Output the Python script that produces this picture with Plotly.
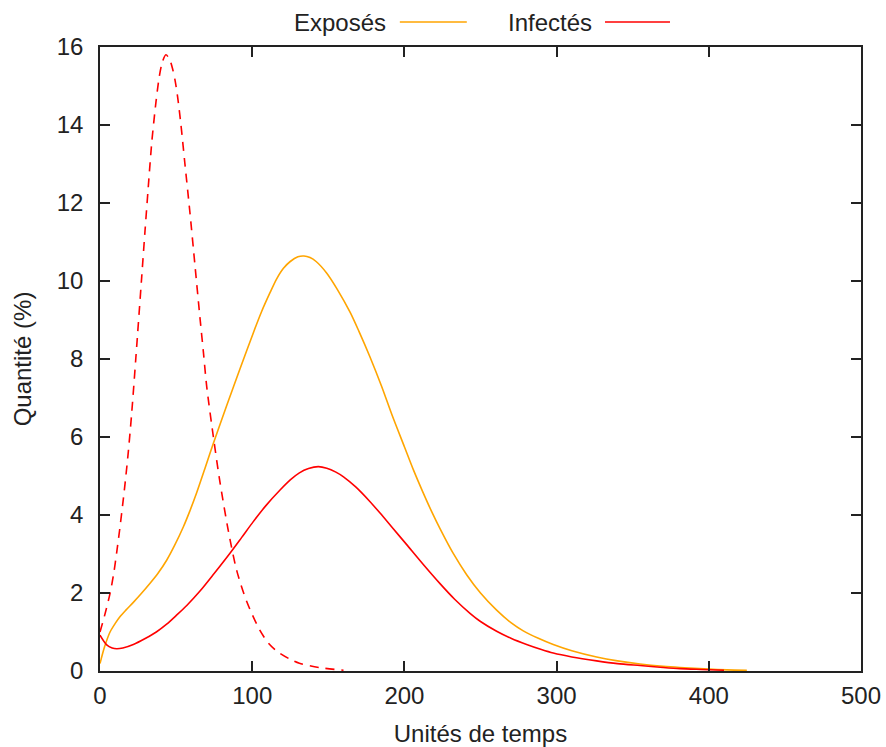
import plotly.graph_objects as go

# Exposés (solid orange)
t_exp = [0, 3, 6.6, 10, 13.1, 17, 21.9, 27, 32.9, 38, 43.8, 49, 54.8, 59, 63.5, 69, 74.5, 83.2, 92,
         101.2, 106, 111.7, 116, 120.4, 125, 130, 134, 138, 142, 149, 156, 164.3, 170, 177.4, 185,
         192, 200, 206, 212, 218, 223.4, 232, 240.9, 250, 260.6, 270, 278.1, 288, 297.8, 310, 326.3,
         340, 354.8, 370, 381, 400, 412, 425]
v_exp = [0.19, 0.62, 1.0, 1.22, 1.39, 1.56, 1.76, 1.98, 2.25, 2.5, 2.84, 3.22, 3.7, 4.1, 4.57, 5.2,
         5.84, 6.8, 7.75, 8.72, 9.2, 9.7, 10.05, 10.32, 10.5, 10.62, 10.64, 10.6, 10.5, 10.2, 9.78,
         9.2, 8.72, 8.05, 7.3, 6.55, 5.75, 5.15, 4.6, 4.08, 3.65, 3.02, 2.47, 2.0, 1.56, 1.24, 1.03,
         0.84, 0.68, 0.52, 0.36, 0.26, 0.18, 0.12, 0.09, 0.05, 0.03, 0.02]

# Infectés (solid red)
t_inf = [0, 4.4, 8, 11, 15, 21.9, 30, 37, 43.8, 50, 57, 65.7, 75, 85.4, 93, 100.7, 109, 118.3, 125,
         131, 137, 143.4, 149, 155, 160, 168, 177, 184, 192, 201.5, 212, 223.4, 233, 243.1, 250,
         260.6, 270, 280.3, 290, 297.8, 310, 326.3, 340, 354.8, 370, 381, 395, 410]
v_inf = [0.92, 0.67, 0.59, 0.57, 0.59, 0.68, 0.84, 1.0, 1.2, 1.42, 1.68, 2.05, 2.5, 3.02, 3.42, 3.83,
         4.24, 4.64, 4.9, 5.08, 5.19, 5.24, 5.2, 5.1, 4.98, 4.72, 4.36, 4.05, 3.68, 3.24, 2.75, 2.24,
         1.84, 1.48, 1.27, 1.02, 0.84, 0.68, 0.55, 0.46, 0.36, 0.26, 0.19, 0.14, 0.09, 0.06, 0.04,
         0.02]

# Infectés, second scenario (dashed red, no legend entry)
t_inf2 = [0, 3, 6.6, 9, 11, 13, 15.3, 17, 18.6, 20.8, 23.5, 27.4, 29.6, 31.7, 34, 36.8, 39, 41,
          43.3, 45.5, 47.5, 49.3, 51, 53.2, 55.8, 59.1, 62.4, 65.7, 68, 70.1, 74.5, 78.8, 84.3,
          89.8, 96.4, 105.1, 111, 117.2, 125, 131, 144, 160]
v_inf2 = [1.0, 1.42, 1.99, 2.5, 3.05, 3.65, 4.4, 5.0, 5.62, 6.6, 8.0, 10.1, 11.3, 12.4, 13.55,
          14.6, 15.25, 15.62, 15.8, 15.7, 15.47, 15.15, 14.72, 14.0, 13.0, 11.75, 10.4, 9.05, 8.15,
          7.3, 6.0, 4.85, 3.6, 2.58, 1.78, 1.04, 0.70, 0.48, 0.3, 0.2, 0.09, 0.02]

x_ticks = [0, 100, 200, 300, 400, 500]
y_ticks = [0, 2, 4, 6, 8, 10, 12, 14, 16]

ORANGE = "#FFA500"
RED = "#FF0000"
FONT = "Liberation Sans, Arial, sans-serif"
TXT = "#222"

fig = go.Figure()
fig.add_trace(go.Scatter(x=t_inf2, y=v_inf2, mode="lines", showlegend=False,
                         line=dict(color=RED, width=1.6, dash="9px,7px", shape="spline",
                                   smoothing=0.8)))
fig.add_trace(go.Scatter(x=t_exp, y=v_exp, mode="lines", name="Exposés", showlegend=False,
                         line=dict(color=ORANGE, width=1.6, shape="spline", smoothing=0.8)))
fig.add_trace(go.Scatter(x=t_inf, y=v_inf, mode="lines", name="Infectés", showlegend=False,
                         line=dict(color=RED, width=1.6, shape="spline", smoothing=0.8)))

axis_common = dict(showgrid=False, zeroline=False, showline=True, linecolor=TXT,
                   linewidth=1.5, mirror="allticks", ticks="inside", ticklen=10,
                   tickwidth=1.5, tickcolor=TXT, tickfont=dict(family=FONT, size=24, color=TXT))

fig.update_xaxes(range=[0, 500], tickvals=x_ticks, ticklabelstandoff=2,
                 title=dict(text="Unités de temps", font=dict(family=FONT, size=24, color=TXT),
                            standoff=18),
                 **axis_common)
fig.update_yaxes(range=[0, 16], tickvals=y_ticks, ticklabelstandoff=10,
                 title=dict(text="Quantité (%)", font=dict(family=FONT, size=24, color=TXT),
                            standoff=18),
                 **axis_common)

# Legend drawn gnuplot-style: label followed by line sample
legend_items = [("Exposés", ORANGE, 0.378, 0.394, 0.482),
                ("Infectés", RED, 0.6485, 0.6636, 0.749)]
for label, col, xt, x0, x1 in legend_items:
    fig.add_annotation(x=xt, y=1.040, xref="paper", yref="paper", text=label, showarrow=False,
                       xanchor="right", yanchor="middle",
                       font=dict(family=FONT, size=24, color=TXT))
    fig.add_shape(type="line", xref="paper", yref="paper", x0=x0, x1=x1, y0=1.040, y1=1.040,
                  line=dict(color=col, width=1.6))

fig.update_layout(width=886, height=747, margin=dict(l=100, r=25, t=47, b=76, autoexpand=False),
                  plot_bgcolor="white", paper_bgcolor="white",
                  font=dict(family=FONT, size=24, color=TXT))

fig.write_html("out.html")
